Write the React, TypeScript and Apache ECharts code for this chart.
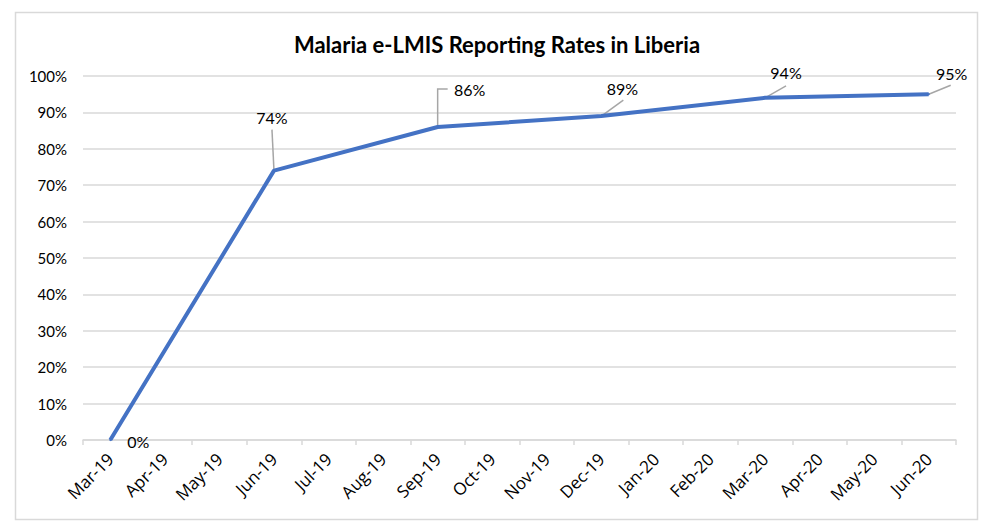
import React, { useEffect, useRef } from "react";
import * as echarts from "echarts";

const titleText = "Malaria e-LMIS Reporting Rates in Liberia";
const months = [
  "Mar-19", "Apr-19", "May-19", "Jun-19", "Jul-19", "Aug-19", "Sep-19", "Oct-19",
  "Nov-19", "Dec-19", "Jan-20", "Feb-20", "Mar-20", "Apr-20", "May-20", "Jun-20",
];
// reporting rate (%) — only quarterly observations, other months have no data
const reportingRate: (number | null)[] = [
  0, null, null, 74, null, null, 86, null, null, 89, null, null, 94, null, null, 95,
];
const yTicks = { min: 0, max: 100, interval: 10 };

// label placement (style only): label centre offset from the point, in px
const labelOffsets: Record<string, [number, number]> = {
  "Mar-19": [28, 1],
  "Jun-19": [-2, -53],
  "Sep-19": [32, -37],
  "Dec-19": [21, -28],
  "Mar-20": [21, -25],
  "Jun-20": [23, -21],
};
// leader-line shapes (style only): vertices relative to the point, in px
const leaderShapes: Record<string, [number, number][]> = {
  "Jun-19": [[0, 0], [-2, -41]],
  "Sep-19": [[0, 0], [0, -38], [10, -38]],
  "Dec-19": [[0, 0], [22, -16]],
  "Mar-20": [[0, 0], [21, -12]],
  "Jun-20": [[0, 0], [22, -9]],
};

export default function App() {
  const ref = useRef<HTMLDivElement>(null);
  useEffect(() => {
    if (!ref.current) return;
    const chart = echarts.init(ref.current, null, { renderer: "svg" });
    const leaderData = months
      .map((m, i) => [i, reportingRate[i]])
      .filter(([i, v]) => v != null && leaderShapes[months[i as number]]);
    chart.setOption({
      animation: false,
      backgroundColor: "#ffffff",
      title: {
        text: titleText,
        left: "center",
        top: 28,
        textStyle: { fontFamily: "Lato", fontWeight: "bold", fontSize: 22, color: "#000" },
      },
      graphic: [
        {
          type: "rect",
          shape: { x: 15.5, y: 12.5, width: 962, height: 507 },
          style: { fill: "none", stroke: "#d9d9d9", lineWidth: 1.5 },
          silent: true,
        },
      ],
      grid: { left: 83, right: 38, top: 76, bottom: 90 },
      xAxis: {
        type: "category",
        data: months,
        boundaryGap: true,
        axisLine: { lineStyle: { color: "#d9d9d9", width: 1.5 } },
        axisTick: { show: true, length: 5, lineStyle: { color: "#d9d9d9", width: 1.5 } },
        axisLabel: {
          rotate: 45,
          margin: 16,
          color: "#000",
          fontFamily: "Open Sans",
          fontSize: 17,
          interval: 0,
        },
      },
      yAxis: {
        type: "value",
        min: yTicks.min,
        max: yTicks.max,
        interval: yTicks.interval,
        axisLine: { show: false },
        axisTick: { show: false },
        splitLine: { lineStyle: { color: "#d9d9d9", width: 1.5 } },
        axisLabel: {
          formatter: (v: number) => `${v}%`,
          margin: 16,
          color: "#000",
          fontFamily: "Lato",
          fontSize: 15,
        },
      },
      series: [
        {
          type: "custom",
          data: leaderData,
          z: 1,
          silent: true,
          renderItem: (params: any, api: any) => {
            const idx = api.value(0);
            const p = api.coord([idx, api.value(1)]);
            const shape = leaderShapes[months[idx]];
            return {
              type: "polyline",
              shape: { points: shape.map(([dx, dy]) => [p[0] + dx, p[1] + dy]) },
              style: { stroke: "#a6a6a6", lineWidth: 1.5, fill: "none" },
            };
          },
        },
        {
          type: "line",
          data: reportingRate,
          z: 2,
          connectNulls: true,
          symbol: "circle",
          symbolSize: 2,
          showSymbol: true,
          itemStyle: { color: "#4472C4" },
          lineStyle: { color: "#4472C4", width: 4 },
          label: {
            show: true,
            position: "inside",
            formatter: (p: any) => (p.value == null ? "" : `${p.value}%`),
            color: "#000",
            fontFamily: "Lato",
            fontSize: 16,
          },
          labelLayout: (params: any) => {
            const off = labelOffsets[months[params.dataIndex]];
            if (!off) return {};
            return { dx: off[0], dy: off[1] };
          },
        },
      ],
    });
    return () => chart.dispose();
  }, []);
  return (
    <div
      ref={ref}
      style={{ position: "fixed", left: 0, top: 0, width: 994, height: 530 }}
    />
  );
}
